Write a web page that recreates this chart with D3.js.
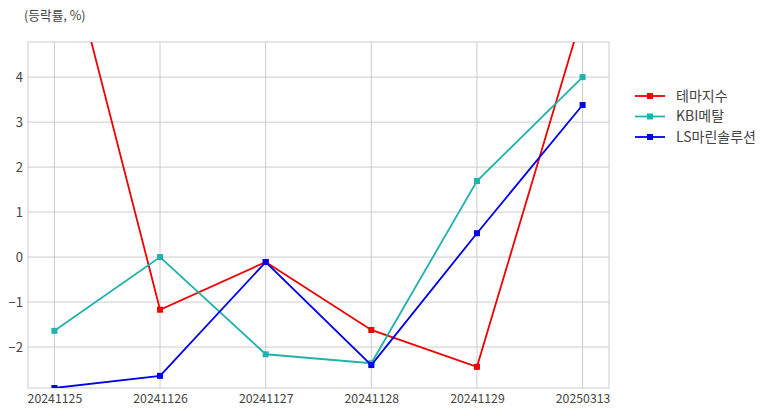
<!DOCTYPE html>
<html><head><meta charset="utf-8">
<script src="https://cdn.jsdelivr.net/npm/d3@7"></script>
<style>body{margin:0;background:#fff;font-family:"Noto Sans CJK KR","Noto Sans",sans-serif;}</style>
</head><body><svg id="c" width="773" height="416"></svg>
<script>
const categories = ["20241125","20241126","20241127","20241128","20241129","20250313"];
const seriesNames = ["테마지수","KBI메탈","LS마린솔루션"];
const seriesColors = ["#ee0000","#20b2aa","#0000ee"];
const themeValues = [7.98,-1.17,-0.11,-1.62,-2.44,5.42];
const kbiValues = [-1.64,0.0,-2.16,-2.36,1.69,4.0];
const lsValues = [-2.91,-2.64,-0.11,-2.40,0.53,3.38];
const yTicks = [-2,-1,0,1,2,3,4];
const yDomain = [-2.91,4.78];
const yLabel = "(등락률, %)";

const allSeries = [themeValues,kbiValues,lsValues];
const svg = d3.select("#c");
const L=28,R=609,T=42,B=388;
const x = d3.scalePoint().domain(categories).range([L,R]).padding(0.25);
const y = d3.scaleLinear().domain(yDomain).range([B,T]);
const font = '"Noto Sans CJK KR","Noto Sans",sans-serif';

svg.append("defs").append("clipPath").attr("id","clip").append("rect")
  .attr("x",L).attr("y",T).attr("width",R-L).attr("height",B-T);

// grid
const g = svg.append("g");
g.selectAll(".hg").data(yTicks).join("line")
  .attr("x1",L).attr("x2",R).attr("y1",d=>y(d)).attr("y2",d=>y(d))
  .attr("stroke","#cccccc").attr("stroke-width",1);
g.selectAll(".vg").data(categories).join("line")
  .attr("y1",T).attr("y2",B).attr("x1",d=>x(d)).attr("x2",d=>x(d))
  .attr("stroke","#cccccc").attr("stroke-width",1);
g.append("rect").attr("x",L).attr("y",T).attr("width",R-L).attr("height",B-T)
  .attr("fill","none").attr("stroke","#cccccc").attr("stroke-width",1);

// axes
const yAxis = d3.axisLeft(y).tickValues(yTicks).tickSize(0).tickPadding(5).tickFormat(d3.format("d"));
const ya = svg.append("g").attr("transform",`translate(${L},0)`).call(yAxis);
ya.select(".domain").remove();
ya.selectAll("text").attr("font-family",font).attr("font-size",13).attr("fill","#444");

const xAxis = d3.axisBottom(x).tickSize(0).tickPadding(6);
const xa = svg.append("g").attr("transform",`translate(0,${B})`).call(xAxis);
xa.select(".domain").remove();
xa.selectAll("text").attr("font-family",font).attr("font-size",12.3).attr("fill","#444");

svg.append("text").attr("x",24).attr("y",20).text(yLabel)
  .attr("font-family",font).attr("font-size",12.7).attr("fill","#444");

// lines
const plot = svg.append("g").attr("clip-path","url(#clip)");
const line = d3.line().x((d,i)=>x(categories[i])).y(d=>y(d));
allSeries.forEach((vals,si)=>{
  plot.append("path").datum(vals).attr("d",line).attr("fill","none")
    .attr("stroke",seriesColors[si]).attr("stroke-width",1.8);
  plot.selectAll(".m"+si).data(vals).join("rect")
    .attr("x",(d,i)=>x(categories[i])-3).attr("y",d=>y(d)-3)
    .attr("width",6).attr("height",6).attr("fill",seriesColors[si]);
});

// legend
const lg = svg.append("g");
seriesNames.forEach((n,i)=>{
  const yy = 96 + i*20.5;
  lg.append("line").attr("x1",635).attr("x2",665).attr("y1",yy).attr("y2",yy)
    .attr("stroke",seriesColors[i]).attr("stroke-width",1.8);
  lg.append("rect").attr("x",647).attr("y",yy-3).attr("width",6).attr("height",6).attr("fill",seriesColors[i]);
  lg.append("text").attr("x",676).attr("y",yy).attr("dy","0.35em").text(n)
    .attr("font-family",font).attr("font-size",14).attr("fill","#444");
});
</script></body></html>
